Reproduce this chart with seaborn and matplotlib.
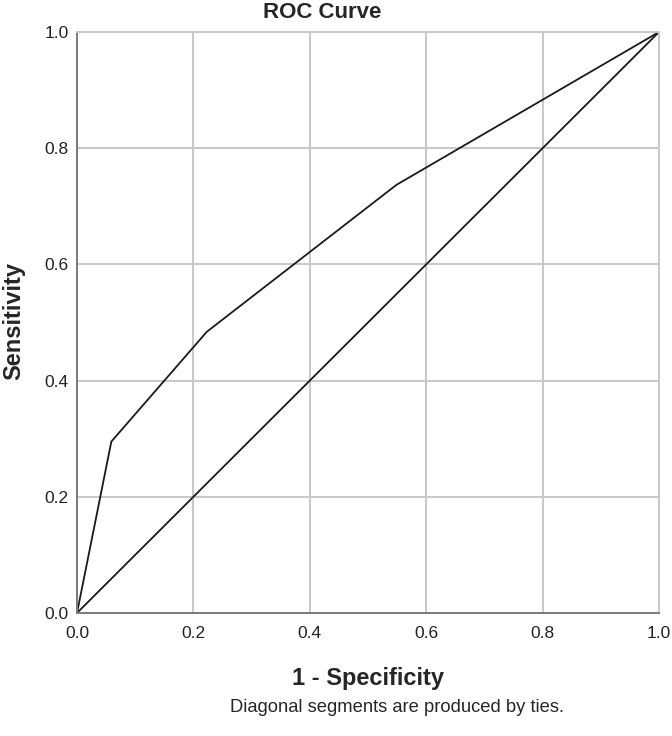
import numpy as np
import pandas as pd
import seaborn as sns
from matplotlib import pyplot as plt

# ROC points
fpr = [0.0, 0.059, 0.223, 0.549, 1.0]
tpr = [0.0, 0.295, 0.484, 0.737, 1.0]
ref_x = [0.0, 1.0]
ref_y = [0.0, 1.0]
ticks = [0.0, 0.2, 0.4, 0.6, 0.8, 1.0]

sns.set_style("whitegrid")
plt.rcParams['font.family'] = ['Liberation Sans', 'DejaVu Sans']

fig = plt.figure(figsize=(6.72, 7.36), dpi=100)
ax = fig.add_axes([77 / 672, 1 - 613 / 736, 582 / 672, 581 / 736])

roc = pd.DataFrame({"fpr": fpr, "tpr": tpr})
diag = pd.DataFrame({"fpr": ref_x, "tpr": ref_y})
sns.lineplot(data=roc, x="fpr", y="tpr", ax=ax, color="#1a1a1a", linewidth=1.3,
             estimator=None, sort=False)
sns.lineplot(data=diag, x="fpr", y="tpr", ax=ax, color="#1a1a1a", linewidth=1.3,
             estimator=None, sort=False)

ax.set_xlim(0, 1)
ax.set_ylim(0, 1)
ax.set_xticks(ticks)
ax.set_yticks(ticks)
ax.set_xticklabels([f"{t:.1f}" for t in ticks])
ax.set_yticklabels([f"{t:.1f}" for t in ticks])
ax.tick_params(axis="both", length=0, labelsize=12.5, colors="#222222")
ax.tick_params(axis="x", pad=9)
ax.tick_params(axis="y", pad=6)
ax.grid(True, color="#c8c8c8", linewidth=1.4)

for side in ["top", "right"]:
    ax.spines[side].set_color("#c8c8c8")
    ax.spines[side].set_linewidth(1.4)
for side in ["left", "bottom"]:
    ax.spines[side].set_color("#7a7a7a")
    ax.spines[side].set_linewidth(1.4)

ax.set_xlabel("")
ax.set_ylabel("")
fig.text(322 / 672, 1 - 12 / 736, "ROC Curve", ha="center", va="center",
         fontsize=16, fontweight="bold")
fig.text(368 / 672, 1 - 678 / 736, "1 - Specificity", ha="center", va="center",
         fontsize=17, fontweight="bold")
fig.text(14 / 672, 1 - 321 / 736, "Sensitivity", ha="center", va="center",
         rotation=90, fontsize=17, fontweight="bold")
fig.text(397 / 672, 1 - 707 / 736, "Diagonal segments are produced by ties.",
         ha="center", va="center", fontsize=13.2)

fig.savefig("out.png", dpi=100)
